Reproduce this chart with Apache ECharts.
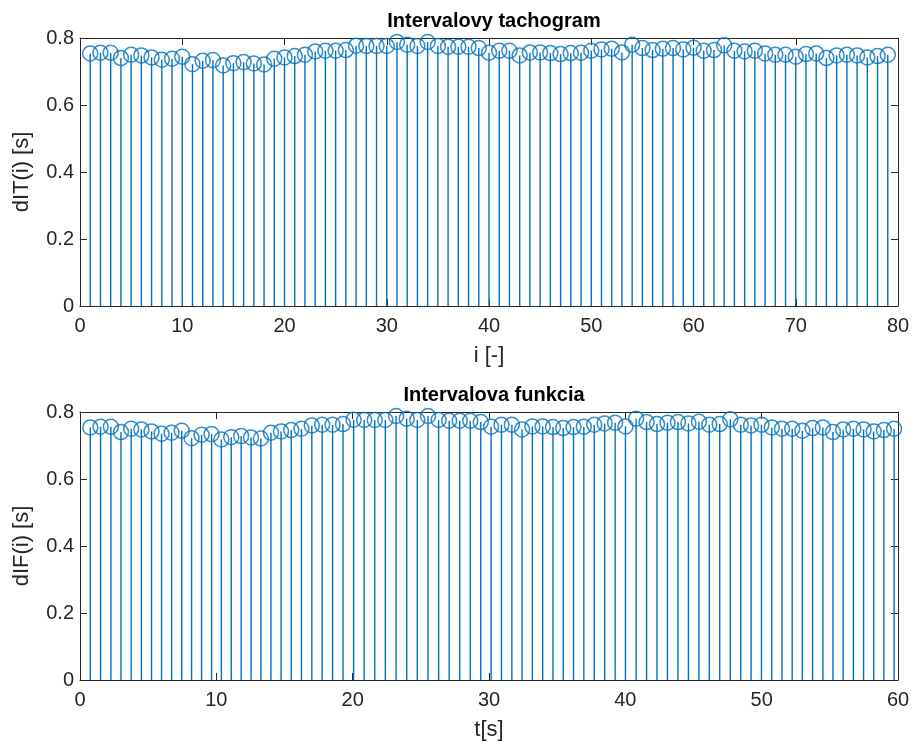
<!DOCTYPE html>
<html>
<head>
<meta charset="utf-8">
<script src="https://cdn.jsdelivr.net/npm/echarts@6/dist/echarts.min.js"></script>
<style>
  html, body { margin: 0; padding: 0; background: #fff; }
  #chart { width: 918px; height: 753px; }
</style>
</head>
<body>
<div id="chart"></div>
<script>
// RR intervals dIT(i) [s], i = 1..79
const dIT = [
  0.754, 0.756, 0.756, 0.740, 0.750, 0.748, 0.742, 0.735, 0.738, 0.744,
  0.722, 0.732, 0.734, 0.718, 0.725, 0.728, 0.724, 0.721, 0.738, 0.742,
  0.746, 0.750, 0.760, 0.762, 0.762, 0.764, 0.777, 0.776, 0.776, 0.776,
  0.788, 0.780, 0.776, 0.788, 0.776, 0.774, 0.774, 0.774, 0.770, 0.756,
  0.762, 0.762, 0.748, 0.757, 0.757, 0.755, 0.752, 0.755, 0.756, 0.762,
  0.766, 0.768, 0.757, 0.780, 0.770, 0.764, 0.768, 0.770, 0.766, 0.771,
  0.762, 0.764, 0.778, 0.762, 0.760, 0.762, 0.754, 0.750, 0.750, 0.744,
  0.752, 0.754, 0.740, 0.748, 0.750, 0.748, 0.742, 0.746, 0.750
];
const titles = ['Intervalovy tachogram', 'Intervalova funkcia'];
const xNames = ['i [-]', 't[s]'];
const yNames = ['dIT(i) [s]', 'dIF(i) [s]'];
const xMax = [80, 60];

// top plot: index i; bottom plot: time of each beat = running sum of the intervals
const topPts = dIT.map((v, k) => [k + 1, v]);
let acc = 0;
const botPts = dIT.map((v) => { acc += v; return [acc, v]; });

const BLUE = '#0072BD', AX = '#262626';
const FONT = "'Liberation Sans', Arial, sans-serif";

const grids = [
  { left: 80, right: 20, top: 38, height: 268 },
  { left: 80, right: 20, top: 412, height: 268 }
];

function xAx(g, pos) {
  const main = pos === 'bottom';
  return {
    type: 'value', gridIndex: g, position: pos, min: 0, max: xMax[g], interval: 10,
    name: main ? xNames[g] : '', nameLocation: 'middle', nameGap: 39,
    nameTextStyle: { color: AX, fontSize: 22, fontFamily: FONT },
    axisLine: { show: true, onZero: false, lineStyle: { color: AX, width: 1 } },
    axisTick: { show: true, inside: true, length: 7, lineStyle: { color: AX } },
    axisLabel: { show: main, color: AX, fontSize: 20, fontFamily: FONT, margin: 10 },
    splitLine: { show: false }
  };
}
function yAx(g, pos) {
  const main = pos === 'left';
  return {
    type: 'value', gridIndex: g, position: pos, min: 0, max: 0.8, interval: 0.2,
    name: main ? yNames[g] : '', nameLocation: 'middle', nameGap: 47,
    nameTextStyle: { color: AX, fontSize: 22, fontFamily: FONT },
    axisLine: { show: true, onZero: false, lineStyle: { color: AX, width: 1 } },
    axisTick: { show: true, inside: true, length: 7, lineStyle: { color: AX } },
    axisLabel: { show: main, color: AX, fontSize: 20, fontFamily: FONT, margin: 6,
      formatter: (v) => (v === 0 ? '0' : v.toFixed(1)) },
    splitLine: { show: false }
  };
}

function stems(g, data) {
  return [
    {
      type: 'bar', xAxisIndex: g * 2, yAxisIndex: g * 2, data, barWidth: 1.4,
      itemStyle: { color: BLUE }, silent: true, animation: false
    },
    {
      type: 'scatter', xAxisIndex: g * 2, yAxisIndex: g * 2, data,
      symbol: 'circle', symbolSize: 15,
      itemStyle: { color: 'transparent', borderColor: BLUE, borderWidth: 1.5 },
      silent: true, animation: false
    }
  ];
}

const chart = echarts.init(document.getElementById('chart'));
chart.setOption({
  backgroundColor: '#fff',
  animation: false,
  title: titles.map((t, g) => ({
    text: t, left: 489, textAlign: 'center', top: g === 0 ? 6 : 380,
    textStyle: { color: '#000', fontSize: 20, fontWeight: 'bold', fontFamily: FONT }
  })),
  grid: grids,
  xAxis: [xAx(0, 'bottom'), xAx(0, 'top'), xAx(1, 'bottom'), xAx(1, 'top')],
  yAxis: [yAx(0, 'left'), yAx(0, 'right'), yAx(1, 'left'), yAx(1, 'right')],
  series: [...stems(0, topPts), ...stems(1, botPts)]
});
</script>
</body>
</html>
